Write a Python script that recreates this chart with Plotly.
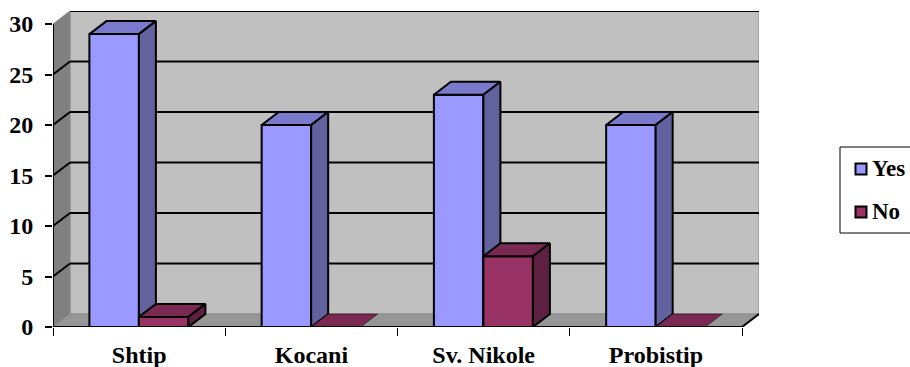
import plotly.graph_objects as go

# Survey counts per municipality
categories = ["Shtip", "Kocani", "Sv. Nikole", "Probistip"]
yes_values = [29, 20, 23, 20]
no_values = [1, 0, 7, 0]
y_ticks = [0, 5, 10, 15, 20, 25, 30]

# Isometric depth of the chart box and of each column, in axis units
DEPTH_X = 17 / 172.25
DEPTH_Y = 13 / 10.1
BAR_W = 49.5 / 172.25
BAR_START = 36.4 / 172.25

X_MAX = len(categories)
Y_MAX = max(y_ticks)

# Pixel layout of the plot area inside the page
WIDTH, HEIGHT = 910, 367
M_L, M_R, M_T, M_B = 53, 151, 11, 40
PLOT_W = WIDTH - M_L - M_R
PLOT_H = HEIGHT - M_T - M_B

BLACK = "#000000"
WALL = "#c0c0c0"
SIDE_WALL = "#808080"
FLOOR = "#969696"
EDGE = "#8c8c8c"

STYLES = {
    "Yes": {"front": "#9999ff", "top": "#7a7acc", "side": "#62629f"},
    "No": {"front": "#993366", "top": "#7a2952", "side": "#5e2040"},
}
FONT = dict(family="Liberation Serif", size=24, color=BLACK)
LEGEND_FONT = dict(family="Liberation Serif", size=23, color=BLACK)


def poly_path(points):
    return "M " + " L ".join(f"{x},{y}" for x, y in points) + " Z"


def wall_shape(points, fill, line_color=None, width=1):
    return dict(type="path", path=poly_path(points), xref="x", yref="y", layer="below",
                fillcolor=fill, line=dict(color=line_color or fill, width=width))


def line_shape(x0, y0, x1, y1, color=BLACK, width=2):
    return dict(type="line", x0=x0, y0=y0, x1=x1, y1=y1, xref="x", yref="y",
                layer="below", line=dict(color=color, width=width))


def page_x(px):
    return (px - M_L) / PLOT_W


def page_y(py):
    return (HEIGHT - M_B - py) / PLOT_H


# Box behind the columns: back wall, left wall, floor and gridlines
shapes = [
    wall_shape([(DEPTH_X, DEPTH_Y), (X_MAX + DEPTH_X, DEPTH_Y),
                (X_MAX + DEPTH_X, Y_MAX + DEPTH_Y), (DEPTH_X, Y_MAX + DEPTH_Y)], WALL, EDGE),
    wall_shape([(0, 0), (DEPTH_X, DEPTH_Y), (DEPTH_X, Y_MAX + DEPTH_Y), (0, Y_MAX)], SIDE_WALL, EDGE),
    wall_shape([(0, 0), (X_MAX, 0), (X_MAX + DEPTH_X, DEPTH_Y), (DEPTH_X, DEPTH_Y)], FLOOR, EDGE),
]
for v in y_ticks[1:]:
    shapes.append(line_shape(DEPTH_X, v + DEPTH_Y, X_MAX + DEPTH_X, v + DEPTH_Y))
    if v < Y_MAX:
        shapes.append(line_shape(0, v, DEPTH_X, v + DEPTH_Y))

# Legend box with a swatch and a label per series
annotations = []
shapes.append(dict(type="rect", xref="paper", yref="paper", x0=page_x(840), x1=page_x(914),
                   y0=page_y(233), y1=page_y(147), fillcolor="white",
                   line=dict(color=BLACK, width=1), layer="above"))
for name, row_y in [("Yes", 169), ("No", 212)]:
    shapes.append(dict(type="rect", xref="paper", yref="paper", x0=page_x(855.5), x1=page_x(866.5),
                       y0=page_y(row_y + 5.5), y1=page_y(row_y - 5.5),
                       fillcolor=STYLES[name]["front"], line=dict(color=BLACK, width=2), layer="above"))
    annotations.append(dict(xref="paper", yref="paper", x=page_x(870), y=page_y(row_y - 1),
                            xanchor="left", yanchor="middle", text=f"<b>{name}</b>",
                            showarrow=False, font=LEGEND_FONT))

fig = go.Figure()


def add_faces(x0, value, style, xaxis, yaxis):
    """Top and right faces of a column whose front starts at x0."""
    x1 = x0 + BAR_W
    faces = [
        ("top", [(x0, value), (x1, value), (x1 + DEPTH_X, value + DEPTH_Y), (x0 + DEPTH_X, value + DEPTH_Y)]),
    ]
    if value > 0:
        faces.append(("side", [(x1, 0), (x1 + DEPTH_X, DEPTH_Y), (x1 + DEPTH_X, value + DEPTH_Y), (x1, value)]))
    for face, pts in faces:
        xs = [p[0] for p in pts] + [pts[0][0]]
        ys = [p[1] for p in pts] + [pts[0][1]]
        fig.add_trace(go.Scatter(
            x=xs, y=ys, mode="lines", fill="toself", fillcolor=style[face],
            line=dict(color=BLACK, width=2 if value > 0 else 0.5), showlegend=False,
            hoverinfo="skip", xaxis=xaxis, yaxis=yaxis, cliponaxis=False,
        ))


positions = list(range(len(categories)))
yes_left = [i + BAR_START for i in positions]
no_left = [i + BAR_START + BAR_W for i in positions]

# "Yes" columns sit in the main subplot; "No" columns in an overlay so they cover the Yes side faces
fig.add_trace(go.Bar(
    x=[x + BAR_W / 2 for x in yes_left], y=yes_values, width=BAR_W, name="Yes", showlegend=False,
    marker=dict(color=STYLES["Yes"]["front"], line=dict(color=BLACK, width=2)),
    xaxis="x", yaxis="y",
))
for x0, value in zip(yes_left, yes_values):
    add_faces(x0, value, STYLES["Yes"], "x", "y")

fig.add_trace(go.Bar(
    x=[x + BAR_W / 2 for x in no_left], y=no_values, width=BAR_W, name="No", showlegend=False,
    marker=dict(color=STYLES["No"]["front"], line=dict(color=BLACK, width=2)),
    xaxis="x2", yaxis="y2",
))
for x0, value in zip(no_left, no_values):
    add_faces(x0, value, STYLES["No"], "x2", "y2")

# Front axis lines and the lower right edge of the floor
for xs, ys in [([0, 0], [0, Y_MAX]), ([0, X_MAX], [0, 0]), ([X_MAX, X_MAX + DEPTH_X], [0, DEPTH_Y])]:
    fig.add_trace(go.Scatter(
        x=xs, y=ys, mode="lines", line=dict(color=BLACK, width=2), showlegend=False,
        hoverinfo="skip", xaxis="x2", yaxis="y2", cliponaxis=False,
    ))

x_range = [0, X_MAX + DEPTH_X]
y_range = [0, Y_MAX + DEPTH_Y]
fig.update_layout(
    width=WIDTH, height=HEIGHT,
    margin=dict(l=M_L, r=M_R, t=M_T, b=M_B, autoexpand=False),
    paper_bgcolor="white", plot_bgcolor="rgba(0,0,0,0)",
    barmode="overlay", shapes=shapes, annotations=annotations,
    font=FONT, showlegend=False,
    xaxis=dict(
        range=x_range, showgrid=False, zeroline=False, showline=False,
        tickvals=[i + 0.5 for i in positions], ticktext=[f"<b>{c}</b>" for c in categories],
        ticks="", ticklabelstandoff=11, tickfont=FONT,
        minor=dict(tickvals=list(range(X_MAX + 1)), ticks="outside", ticklen=8,
                   tickcolor=BLACK, tickwidth=1, showgrid=False),
    ),
    yaxis=dict(
        range=y_range, showgrid=False, zeroline=False, showline=False,
        tickvals=y_ticks, ticktext=[f"<b>{v}</b>" for v in y_ticks],
        ticks="outside", ticklen=7, tickcolor=BLACK, tickwidth=1.5,
        ticklabelstandoff=7, tickfont=FONT,
    ),
    xaxis2=dict(range=x_range, overlaying="x", visible=False),
    yaxis2=dict(range=y_range, overlaying="y", visible=False),
)

fig.write_html("out.html", config=dict(displayModeBar=False))
